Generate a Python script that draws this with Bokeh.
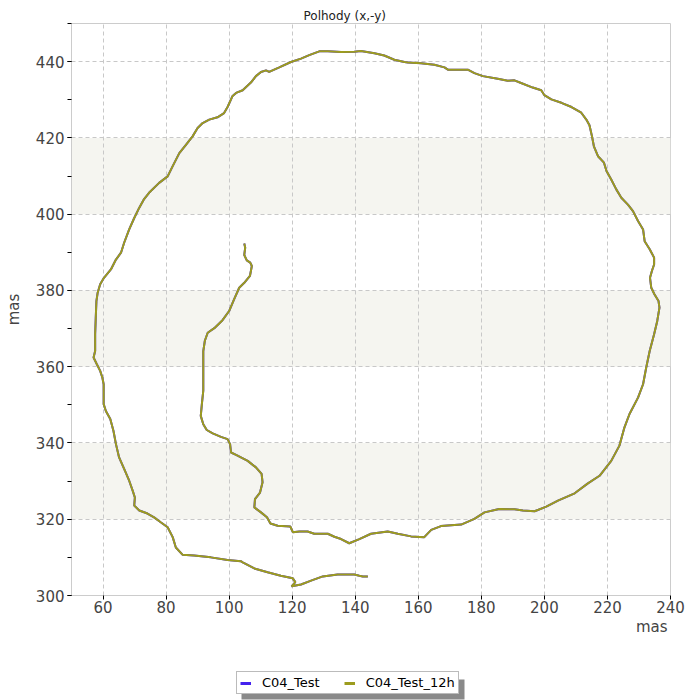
from bokeh.plotting import figure
from bokeh.layouts import column
from bokeh.models import (Range1d, SingleIntervalTicker, Legend, LegendItem,
                          Title, BoxAnnotation)
from bokeh.embed import file_html
from bokeh.resources import INLINE

# ---- data ----
# polar motion path, x (mas)
x_c04 = [104.8, 105.1, 104.8, 105.6, 106.7, 107.2, 106.6, 104.8, 103.2, 101.6, 100.0, 97.9,
         95.3, 93.2, 92.3, 91.8, 91.8, 91.8, 91.4, 91.0, 91.8, 92.9, 94.8, 97.4, 99.5, 100.3,
         100.6, 102.2, 105.9, 108.5, 110.3, 110.6, 109.8, 108.2, 108.0, 110.1, 112.0, 113.1,
         115.4, 119.4, 120.2, 122.3,
         124.9, 127.0, 131.3, 133.4, 135.5, 138.1, 141.3, 145.0, 150.3, 153.5, 157.7, 161.9,
         164.1, 167.2, 173.6, 177.8, 181.0, 185.7, 190.5, 193.2, 196.9, 200.6, 204.3, 209.6,
         213.8, 217.5, 221.2, 223.8, 225.4, 227.0, 229.7, 231.3, 232.3, 233.4, 234.8, 235.8,
         236.5,
         236.2, 234.9, 233.9, 233.5, 234.1, 234.8, 234.8, 233.4, 231.8, 231.3, 229.7, 228.1,
         226.5, 224.4, 222.8, 221.2, 219.7, 218.9, 217.0, 215.7, 215.1, 214.3, 213.3, 211.7,
         208.6, 205.4, 202.2, 200.0, 199.0, 196.3, 192.6, 190.5,
         188.4, 185.2, 180.5, 177.8, 175.7, 172.5, 169.4, 168.3, 165.1, 160.9, 156.7, 155.6,
         152.4, 149.2, 146.1, 141.8, 139.7, 135.5, 131.3, 128.6, 125.4, 122.8, 119.6, 115.9,
         112.7, 111.7, 110.1, 108.5, 106.9, 104.3, 102.2, 101.1, 99.5, 98.4, 96.3, 93.7,
         91.6, 90.0,
         88.4, 86.3, 84.2, 82.1, 80.5, 77.8, 74.6, 72.9, 71.5, 69.9, 68.3, 66.7, 65.7, 64.1,
         62.5, 60.3, 59.1, 58.3, 57.9, 57.7, 57.5, 57.5,
         57.0, 58.0, 59.1, 59.8, 60.2, 60.2, 60.9, 62.3, 63.3, 64.1, 65.1, 66.7, 68.3, 69.4,
         70.1, 69.9, 71.5, 74.1, 76.2, 78.3, 80.5, 82.1, 83.1, 85.2, 88.9, 94.2, 99.5, 103.7,
         104.3, 108.0, 112.2, 116.4, 120.2, 121.0, 119.8, 122.8, 126.0, 129.7, 134.4, 139.7,
         141.3, 142.4, 144.0]
# polar motion path, -y (mas)
y_c04 = [392.3, 391.2, 389.3, 387.9, 387.3, 386.4, 383.8, 382.0, 380.7, 377.7, 374.6, 372.2,
         370.1, 368.9, 366.8, 364.1, 358.9, 353.7, 350.6, 347.1, 344.9, 343.4, 342.5, 341.6,
         341.0, 339.7, 337.5, 336.9, 335.3, 333.6, 331.9, 329.7, 327.0, 325.3, 323.1, 321.8,
         320.5, 318.9, 318.3, 318.1, 316.6, 316.8,
         316.8, 316.2, 316.2, 315.4, 314.8, 313.7, 314.8, 316.2, 316.8, 316.2, 315.5, 315.3,
         317.2, 318.2, 318.6, 320.1, 321.8, 322.7, 322.6, 322.3, 322.1, 323.3, 324.9, 326.8,
         329.4, 331.4, 335.3, 339.3, 344.1, 347.6, 351.9, 355.4, 359.8, 364.1, 368.5, 372.0,
         375.5,
         377.2, 379.0, 380.7, 383.3, 385.1, 386.8, 388.6, 390.8, 392.9, 396.0, 398.2, 400.8,
         402.5, 404.3, 406.5, 409.1, 411.3, 413.5, 415.2, 417.8, 420.4, 423.3, 424.8, 426.6,
         428.1, 429.2, 430.1, 431.2, 432.5, 433.2, 434.4, 435.1,
         435.0, 435.5, 436.2, 437.0, 437.9, 437.9, 437.9, 438.5, 439.2, 439.6, 439.8, 439.9,
         440.5, 441.6, 442.2, 442.8, 442.6, 442.5, 442.7, 442.7, 441.7, 440.8, 439.9, 438.5,
         437.3, 437.7, 437.3, 436.2, 434.5, 432.5, 431.8, 431.0, 428.1, 426.5, 425.4, 424.8,
         423.9, 422.6,
         420.4, 418.2, 416.0, 412.6, 409.9, 408.2, 405.6, 403.8, 401.7, 399.0, 396.0, 392.5,
         389.9, 388.1, 385.5, 383.3, 381.6, 379.4, 377.2, 372.9, 368.5, 364.1,
         362.4, 360.7, 358.9, 357.1, 355.4, 350.2, 348.4, 346.3, 343.2, 339.7, 336.2, 333.2,
         330.1, 327.5, 325.7, 323.6, 322.3, 321.5, 320.5, 319.2, 317.9, 315.3, 312.6, 310.7,
         310.5, 310.0, 309.3, 309.0,
         308.7, 307.1, 306.1, 305.2, 304.5, 303.5, 302.4, 302.9, 303.9, 305.0, 305.5, 305.5,
         305.2, 305.0, 305.0]

series_names = ["C04_Test", "C04_Test_12h"]
series_colors = ["#4422ee", "#9c9c1e"]
chart_title = "Polhody (x,-y)"
axis_unit = "mas"
band_bottoms = [320, 360, 400]
band_tops = [340, 380, 420]

# ---- main figure ----
p = figure(frame_width=599, frame_height=572,
           x_range=Range1d(50, 240), y_range=Range1d(300, 450),
           output_backend="svg", toolbar_location=None,
           min_border_left=71, min_border_right=20, min_border_top=23,
           min_border_bottom=45,
           background_fill_color="white", border_fill_color="white",
           outline_line_color="#cccccc")

p.title.text = chart_title
p.title.align = "left"
p.title.offset = 232
p.title.standoff = 0
p.title.vertical_align = "middle"
p.title.text_font = "DejaVu Sans"
p.title.text_font_size = "12px"
p.title.text_font_style = "normal"
p.title.text_color = "#222222"

xt = SingleIntervalTicker(interval=20, num_minor_ticks=0)
yt = SingleIntervalTicker(interval=20, num_minor_ticks=2)
p.xaxis.ticker = xt
p.yaxis.ticker = yt
p.xgrid.ticker = xt
p.ygrid.ticker = yt

for ax in (p.xaxis[0], p.yaxis[0]):
    ax.axis_line_color = "#cccccc"
    ax.major_tick_line_color = "#000000"
    ax.minor_tick_line_color = "#000000"
    ax.major_tick_in = 0
    ax.major_tick_out = 4
    ax.minor_tick_in = 0
    ax.minor_tick_out = 4
    ax.major_label_text_font = "DejaVu Sans"
    ax.major_label_text_font_size = "15px"
    ax.major_label_text_color = "#444444"
p.xaxis.major_label_standoff = 1
p.yaxis.major_label_standoff = 3

p.yaxis.axis_label = axis_unit
p.yaxis.axis_label_text_font = "DejaVu Sans"
p.yaxis.axis_label_text_font_size = "15px"
p.yaxis.axis_label_text_font_style = "normal"
p.yaxis.axis_label_text_color = "#444444"
p.yaxis.axis_label_standoff = 10

xlab = Title(text=axis_unit, align="right", text_font="DejaVu Sans",
             text_font_size="15px", text_font_style="normal",
             text_color="#444444", standoff=0, offset=3)
p.add_layout(xlab, "below")

for g in (p.xgrid[0], p.ygrid[0]):
    g.grid_line_color = "#c8c8c8"
    g.grid_line_dash = "4 3"
    g.grid_line_width = 1

for b, t in zip(band_bottoms, band_tops):
    p.add_layout(BoxAnnotation(bottom=b, top=t, fill_color="#f5f5f0", fill_alpha=1.0,
                               line_color=None, level="image"))

p.line(x_c04, y_c04, line_color=series_colors[0], line_width=2)
p.line(x_c04, y_c04, line_color=series_colors[1], line_width=2)

# ---- legend strip below the chart (frame aligned with the chart frame) ----
lg = figure(width=690, height=60, x_range=Range1d(0, 1), y_range=Range1d(0, 1),
            x_axis_location=None, y_axis_location=None, min_border=0,
            output_backend="svg", toolbar_location=None,
            outline_line_color=None, background_fill_color="white",
            border_fill_color="white")
lg.grid.visible = False
# legend key renderers: same series, outside this strip's (empty) view
k1 = lg.line(x_c04, y_c04, line_color=series_colors[0], line_width=3)
k2 = lg.line(x_c04, y_c04, line_color=series_colors[1], line_width=3)

shadow = BoxAnnotation(left=170, right=393, bottom=1, top=21,
                       left_units="screen", right_units="screen",
                       bottom_units="screen", top_units="screen",
                       fill_color="#8a8a8a", fill_alpha=1.0, line_color=None,
                       level="underlay")
lg.add_layout(shadow)

legend = Legend(items=[LegendItem(label=series_names[0], renderers=[k1]),
                       LegendItem(label=series_names[1], renderers=[k2])],
                orientation="horizontal", location=(165, 6), margin=0,
                border_line_color="#777777", border_line_width=1,
                background_fill_color="white", background_fill_alpha=1.0,
                label_text_font="DejaVu Sans", label_text_font_size="13px",
                label_text_color="#000000",
                glyph_width=11, glyph_height=14, label_height=14,
                label_standoff=11, spacing=24, padding=3)
lg.add_layout(legend, "center")

layout = column(p, lg, spacing=0)
open("out.html", "w").write(file_html(layout, INLINE))
